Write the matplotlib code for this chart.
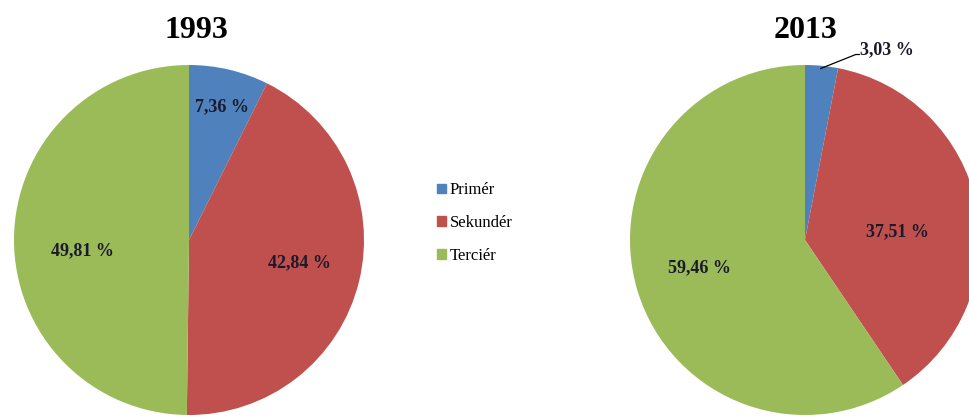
import matplotlib
matplotlib.use('Agg')
import matplotlib.pyplot as plt
import matplotlib.patches as mpatches

plt.rcParams['font.family'] = ['Liberation Serif', 'DejaVu Serif']

categories = ['Primér', 'Sekundér', 'Terciér']
years = ['1993', '2013']
shares_1993 = [7.36, 42.84, 49.81]
shares_2013 = [3.03, 37.51, 59.46]

colors = ['#4F81BD', '#C0504D', '#9BBB59']

W, H = 969, 418
fig = plt.figure(figsize=(W / 100, H / 100), dpi=100)

R = 175


def pie_axes(cx, cy):
    return fig.add_axes([(cx - R) / W, (H - cy - R) / H, 2 * R / W, 2 * R / H])


def fmt(v):
    return ('%.2f %%' % v).replace('.', ',')


def draw_pie(ax, values, label_pos):
    wedges, _ = ax.pie(values, colors=colors, startangle=90, counterclock=False,
                       radius=1.0, wedgeprops=dict(linewidth=0))
    ax.set_xlim(-1, 1)
    ax.set_ylim(-1, 1)
    ax.set_aspect('equal')
    ax.axis('off')
    for v, pos in zip(values, label_pos):
        if pos is None:
            continue
        ax.text(pos[0], pos[1], fmt(v), ha='center', va='center', fontsize=13,
                fontweight='bold', color='#1a1a2a')
    return wedges


ax1 = pie_axes(189, 240)
draw_pie(ax1, shares_1993, [(0.19, 0.76), (0.63, -0.13), (-0.61, -0.06)])

ax2 = pie_axes(805, 240)
draw_pie(ax2, shares_2013, [None, (0.53, 0.05), (-0.6, -0.16)])
# small slice label with a leader line
ax2.plot([0.09, 0.29, 0.31], [0.98, 1.06, 1.06], color='black', lw=0.9,
         clip_on=False)
ax2.text(0.47, 1.09, fmt(shares_2013[0]), ha='center', va='center',
         fontsize=13, fontweight='bold', color='#1a1a2a', clip_on=False)

fig.text(196 / W, 1 - 30 / H, years[0], ha='center', va='center',
         fontsize=23, fontweight='bold')
fig.text(806 / W, 1 - 30 / H, years[1], ha='center', va='center',
         fontsize=23, fontweight='bold')

handles = [mpatches.Patch(color=c, label=l) for c, l in zip(colors, categories)]
fig.legend(handles=handles, loc='center left', bbox_to_anchor=(429 / W, 1 - 223 / H),
           frameon=False, fontsize=12, handlelength=0.5, handleheight=0.5,
           handletextpad=0.25, labelspacing=1.0, borderpad=0)

plt.savefig('out.png', dpi=100)
